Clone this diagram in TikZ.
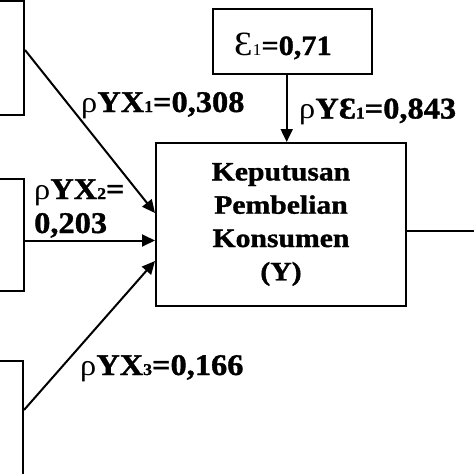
\documentclass[tikz,border=0pt]{standalone}
\usepackage{fontspec}
\setmainfont{Liberation Serif}[FakeStretch=1.12,BoldFeatures={FakeBold=1.2}]
\newfontfamily\lblfont{Liberation Serif}[FakeStretch=1.08,BoldFeatures={FakeBold=1.2}]
\usetikzlibrary{arrows.meta}
\newcommand{\lowsub}[1]{{\fontsize{16.5}{16.5}\selectfont #1}}
\begin{document}
\begin{tikzpicture}[x=1pt,y=-1pt,
  box/.style={draw,line width=2pt,inner sep=0pt},
  conn/.style={line width=2pt},
  arr/.style={line width=2pt,-{Triangle[length=13pt,width=12pt]}},
  lbl/.style={anchor=base west,inner sep=0pt,font=\lblfont\fontsize{30}{30}\selectfont\bfseries},
]
\useasboundingbox[fill=white] (0,0) rectangle (474,474);
% boxes
\node[box,minimum width=40pt,minimum height=114pt] (b1) at (4,58) {};
\node[box,minimum width=39.5pt,minimum height=112pt] (b2) at (3.75,235) {};
\node[box,minimum width=39pt,minimum height=139pt] (b3) at (3.5,430.5) {};
\node[box,minimum width=159pt,minimum height=65pt] (be) at (292.5,41.5) {};
\node[box,minimum width=250pt,minimum height=163pt,align=center,
      font=\fontsize{26.5}{33.3}\selectfont\bfseries] (by) at (281,224.5)
      {Keputusan\\Pembelian\\Konsumen\\(Y)};
% helper coordinates
\coordinate (h1) at (0,50);
\coordinate (t1) at (0,213);
\coordinate (h2) at (0,240.5);
\coordinate (h3) at (0,410);
\coordinate (t3) at (0,261);
\coordinate (h4) at (286.7,0);
\coordinate (o2) at (480,231);
% connectors
\draw[arr] (b1.east |- h1) -- (by.west |- t1);
\draw[arr] (b2.east |- h2) -- (by.west |- h2);
\draw[arr] (b3.east |- h3) -- (by.west |- t3);
\draw[arr] (h4 |- be.south) -- (h4 |- by.north);
\draw[conn] (by.east |- o2) -- (o2);
% labels
\node[lbl,font=\lblfont\fontsize{28}{28}\selectfont\bfseries] (le) at (234,55) {{\fontsize{34}{34}\selectfont\mdseries Ɛ}{\mdseries\lowsub{1}}=0,71};
\node[lbl] (l1) at (81,112) {\textmd{ρ}YX\lowsub{1}=0,308};
\node[lbl] (l4) at (299,118.5) {\textmd{ρ}YƐ\lowsub{1}=0,843};
\node[lbl] (l2) at (34,199) {\textmd{ρ}YX\lowsub{2}=};
\node[lbl] (l2b) at (34,233) {0,203};
\node[lbl] (l3) at (80,375) {\textmd{ρ}YX\lowsub{3}=0,166};
\end{tikzpicture}
\end{document}
